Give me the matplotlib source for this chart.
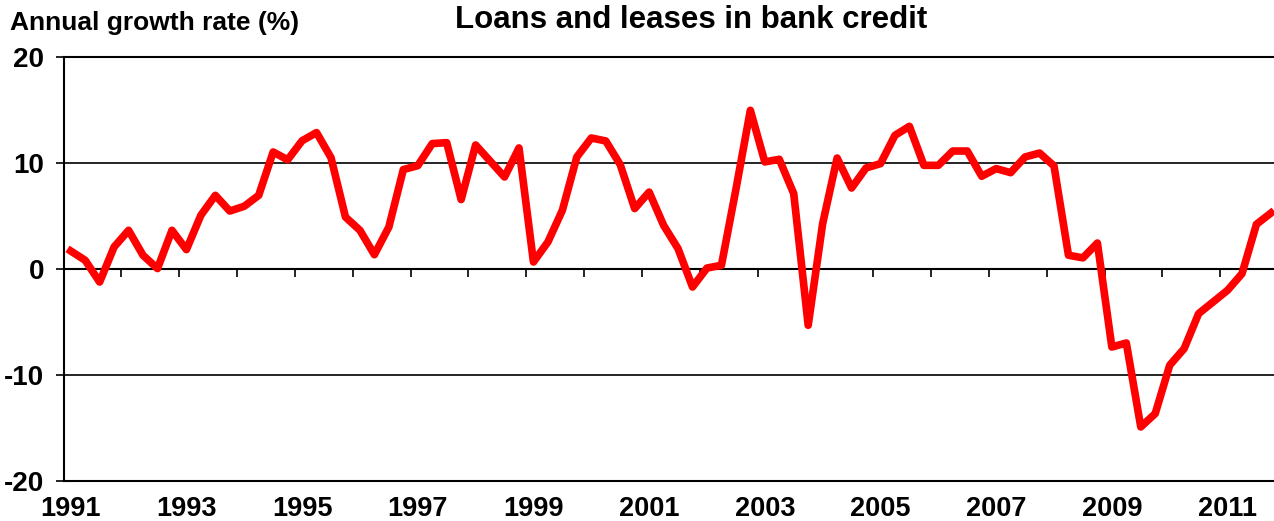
import numpy as np
import matplotlib
matplotlib.use('Agg')
import matplotlib.pyplot as plt

plt.rcParams['font.family'] = ['Liberation Sans', 'DejaVu Sans']
plt.rcParams['font.weight'] = 'bold'

# quarterly annual growth rate of loans and leases, 1991Q1 .. 2011Q4
first_year = 1991
growth = [
    1.70, 0.82, -1.23, 2.08,
    3.65, 1.29, 0.04, 3.65,
    1.83, 5.07, 6.95, 5.47,
    5.92, 6.95, 11.04, 10.30,
    12.10, 12.87, 10.50, 4.90,
    3.65, 1.35, 3.96, 9.38,
    9.75, 11.83, 11.92, 6.55,
    11.70, 10.19, 8.68, 11.42,
    0.66, 2.55, 5.54, 10.57,
    12.36, 12.08, 9.85, 5.70,
    7.26, 4.12, 1.92, -1.70,
    0.09, 0.35, 7.50, 14.97,
    10.10, 10.35, 7.11, -5.31,
    4.28, 10.47, 7.64, 9.53,
    9.94, 12.61, 13.46, 9.78,
    9.78, 11.13, 11.13, 8.75,
    9.47, 9.09, 10.57, 10.94,
    9.72, 1.30, 1.05, 2.45,
    -7.36, -6.98, -14.90, -13.64,
    -9.08, -7.51, -4.21, -3.11,
    -2.01, -0.44, 4.22, 5.28,
]
label_years = list(range(1991, 2012, 2))
y_ticks = [-20, -10, 0, 10, 20]

n = len(growth)
x = np.arange(n) + 0.5

W, H = 1274, 521
fig = plt.figure(figsize=(W / 100, H / 100), dpi=100)
q = 14.46  # pixels per quarter
ax = fig.add_axes([63.5 / W, (H - 481) / H, n * q / W, (481 - 57) / H])

ax.plot(x, growth, color='#ff0000', lw=5.5, solid_joinstyle='round', zorder=3)

ax.set_xlim(0, n)
ax.set_ylim(-20, 20)
ax.set_yticks(y_ticks)
ax.set_yticklabels([str(v) for v in y_ticks], fontsize=20, fontweight='bold')
ax.tick_params(axis='y', direction='out', length=6, width=1.2, pad=8)
ax.yaxis.grid(True, color='black', lw=1.2)

# year tick marks sit on the zero line, labels go under the plot
ax.spines['bottom'].set_position(('data', 0))
ax.set_xticks(np.arange(0, n + 1, 4))
ax.tick_params(axis='x', direction='out', length=6, width=1.2, labelbottom=False)
ax.spines['right'].set_visible(False)
for s in ['left', 'top', 'bottom']:
    ax.spines[s].set_linewidth(1.5)
    ax.spines[s].set_color('black')

sec = ax.secondary_xaxis('bottom')
sec.set_xticks([(yr - first_year) * 4 + 0.5 for yr in label_years])
sec.set_xticklabels([str(yr) for yr in label_years], fontsize=19.5, fontweight='bold')
sec.tick_params(length=0, pad=11)
sec.spines['bottom'].set_linewidth(1.5)

fig.text(10 / W, 1 - 30 / H, 'Annual growth rate (%)', fontsize=19,
         fontweight='bold', ha='left', va='baseline')
fig.text(691 / W, 1 - 28 / H, 'Loans and leases in bank credit', fontsize=22.5,
         fontweight='bold', ha='center', va='baseline')

fig.savefig('out.png', dpi=100)
